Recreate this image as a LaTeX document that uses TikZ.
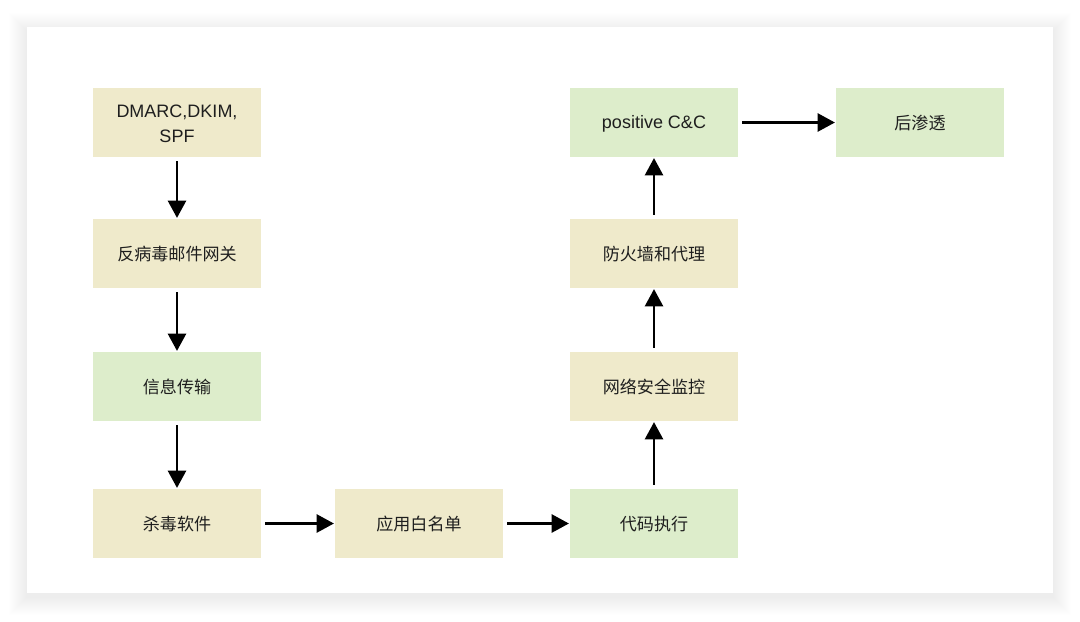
\documentclass[tikz,border=0pt]{standalone}
\usepackage{fontspec}
\setmainfont{Liberation Sans}
\newfontfamily\cjkfam{Noto Sans CJK SC}
\newcommand{\ck}{\fontsize{12.8pt}{18.5pt}\selectfont\cjkfam}
\usetikzlibrary{arrows.meta}
\definecolor{beigebox}{HTML}{EFEACB}
\definecolor{greenbox}{HTML}{DDEDCB}
\definecolor{txt}{HTML}{1E1E1E}
\newcommand{\tx}[2][1.2pt]{\raisebox{-#1}[\height][\depth]{\begin{tabular}{@{}c@{}}#2\end{tabular}}}
\tikzset{
  box/.style={draw=none, minimum width=126pt, minimum height=51.75pt, inner sep=0pt, text=txt, font=\fontsize{13.5pt}{18.5pt}\selectfont},
  beige/.style={box, fill=beigebox},
  green/.style={box, fill=greenbox},
  flow/.style={line width=2.1pt, -{Triangle[length=13pt,width=13.5pt]}, shorten <=3pt, shorten >=0.6pt}
}
\begin{document}
\begin{tikzpicture}[x=0.75pt,y=-0.75pt]
\useasboundingbox (0,0) rectangle (1080,621);
\fill[white] (0,0) rectangle (1080,621);
% card shadow
\foreach \i in {1,...,18}{
  \fill[black, opacity=0.0035] (27-\i,27-\i+4) rectangle (1053+\i,593+\i+4);
}
\fill[white] (27,27) rectangle (1053,593);
% nodes
\node[beige] (dmarc) at (177,122.5) {\tx[2pt]{DMARC,DKIM,\\SPF}};
\node[beige] (gw) at (177,253.5) {\tx{\ck 反病毒邮件网关}};
\node[green] (msg) at (177,386.5) {\tx{\ck 信息传输}};
\node[beige] (av) at (177,523.5) {\tx{\ck 杀毒软件}};
\node[beige] (wl) at (419,523.5) {\tx{\ck 应用白名单}};
\node[green] (exec) at (654,523.5) {\tx{\ck 代码执行}};
\node[beige] (nsm) at (654,386.5) {\tx{\ck 网络安全监控}};
\node[beige] (fw) at (654,253.5) {\tx{\ck 防火墙和代理}};
\node[green] (cc) at (654,122.5) {\tx[0.8pt]{positive C\&C}};
\node[green] (post) at (920,122.5) {\tx{\ck 后渗透}};
% connectors
\draw[flow] (dmarc) -- (gw);
\draw[flow] (gw) -- (msg);
\draw[flow] (msg) -- (av);
\draw[flow] (av) -- (wl);
\draw[flow] (wl) -- (exec);
\draw[flow] (exec) -- (nsm);
\draw[flow] (nsm) -- (fw);
\draw[flow] (fw) -- (cc);
\draw[flow] (cc) -- (post);
\end{tikzpicture}
\end{document}
